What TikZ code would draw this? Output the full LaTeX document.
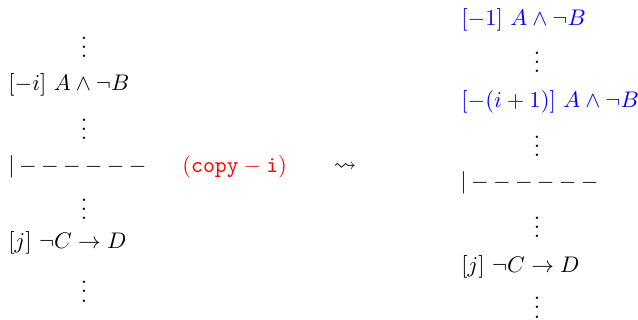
\documentclass[tikz,border=0pt]{standalone}
\usepackage{amssymb}
\newcommand\threedots{\vbox{\baselineskip4pt\lineskiplimit0pt\hbox{.}\hbox{.}\hbox{.}}}
\begin{document}
\begin{tikzpicture}[x=0.4425pt,y=-0.4425pt,
  line/.style={anchor=base west,inner sep=0pt},
  dots/.style={anchor=base,inner sep=0pt},
  hl/.style={line,text=blue}]
\useasboundingbox (0,0) rectangle (638,320);
% left column
\node[dots] (l0) at (84,58) {\threedots};
\node[line] (l1) at (8,91) {$[-i]\ A\wedge\neg B$};
\node[dots] (l2) at (84,140) {\threedots};
\node[line] (l3) at (8,173) {${|}\mkern3.5mu{-}\mkern3.5mu{-}\mkern3.5mu{-}\mkern3.5mu{-}\mkern3.5mu{-}\mkern3.5mu{-}$};
\node[dots] (l4) at (84,220) {\threedots};
\node[line] (l5) at (8,249) {$[j]\ \neg C\to D$};
\node[dots] (l6) at (84,302) {\threedots};
% middle
\node[line,text=red] (cp) at (182,172.5) {$(\mathtt{copy}-\mathtt{i})$};
\node[inner sep=0pt] (arr) at (345,167) {$\leadsto$};
% right column
\node[hl] (r1) at (461,26) {$[-1]\ A\wedge\neg B$};
\node[dots] (r2) at (537,73) {\threedots};
\node[hl] (r3) at (461,107.5) {$[-(i+1)]\ A\wedge\neg B$};
\node[dots] (r4) at (537,157) {\threedots};
\node[line] (r5) at (460,189) {${|}\mkern3.5mu{-}\mkern3.5mu{-}\mkern3.5mu{-}\mkern3.5mu{-}\mkern3.5mu{-}\mkern3.5mu{-}$};
\node[dots] (r6) at (537,238) {\threedots};
\node[line] (r7) at (461,273) {$[j]\ \neg C\to D$};
\node[dots] (r8) at (537,318) {\threedots};
\end{tikzpicture}
\end{document}
